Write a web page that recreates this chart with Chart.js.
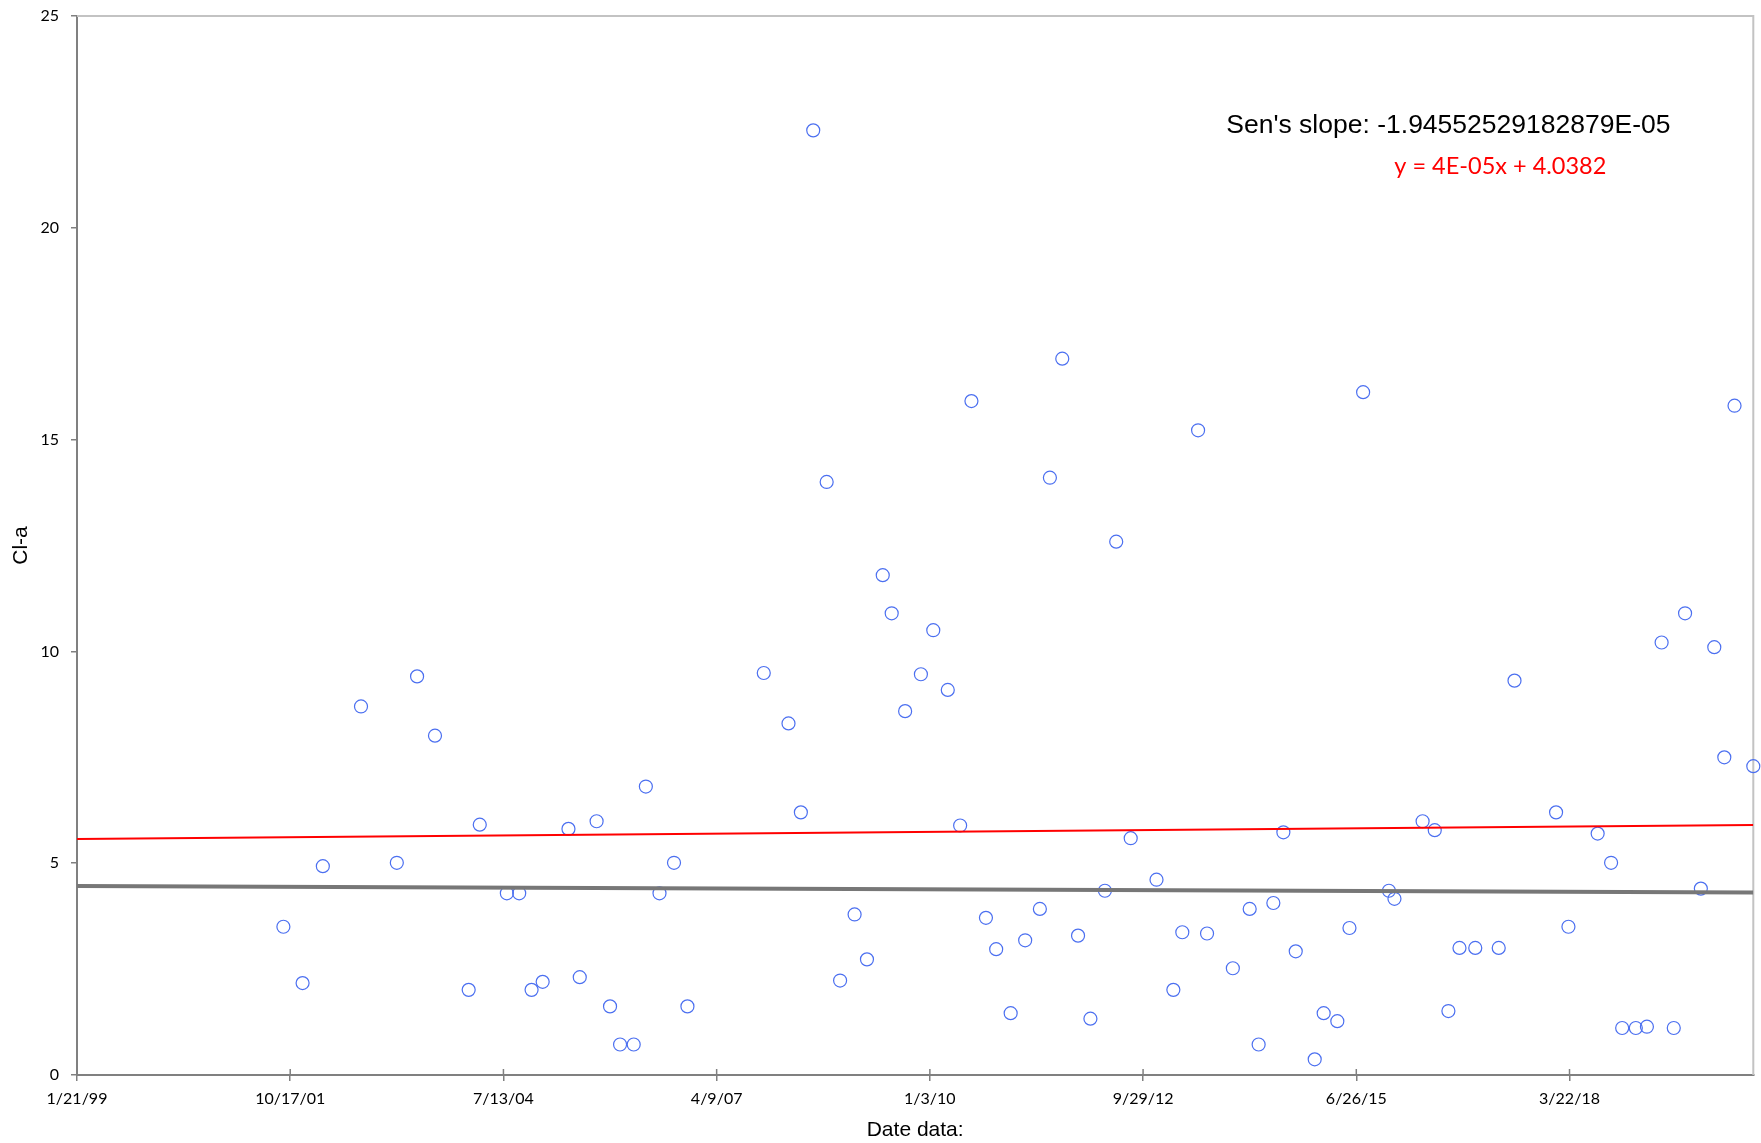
<!DOCTYPE html>
<html>
<head>
<meta charset="utf-8">
<title>Cl-a</title>
<script src="https://cdn.jsdelivr.net/npm/chart.js@4.4.1/dist/chart.umd.min.js"></script>
<style>
  html, body { margin: 0; padding: 0; background: #fff; }
  #wrap { width: 1761px; height: 1143px; position: relative; }
</style>
</head>
<body>
<div id="wrap"><canvas id="chart"></canvas></div>
<script>
// sample dates as Excel serial day numbers (same x the trend equation uses)
const sampleDates = [
  37149, 37239, 37334, 37513, 37681, 37776, 37860, 38018, 38070, 38197,
  38255, 38313, 38365, 38486, 38539, 38618, 38681, 38728, 38792, 38849,
  38913, 38981, 39044, 39402, 39518, 39576, 39634, 39697, 39760, 39828,
  39886, 39960, 40002, 40065, 40139, 40197, 40265, 40323, 40376, 40444,
  40492, 40560, 40628, 40697, 40744, 40802, 40876, 40934, 41002, 41055,
  41123, 41244, 41323, 41365, 41439, 41481, 41602, 41681, 41723, 41792,
  41839, 41897, 41986, 42028, 42092, 42149, 42213, 42334, 42360, 42492,
  42549, 42613, 42665, 42739, 42849, 42923, 43118, 43176, 43313, 43376,
  43428, 43492, 43544, 43613, 43670, 43723, 43797, 43860, 43907, 43955,
  44043
];
const chla = [
  3.50, 2.17, 4.93, 8.70, 5.01, 9.41, 8.01, 2.01, 5.91, 4.29,
  4.29, 2.01, 2.20, 5.81, 2.31, 5.99, 1.62, 0.72, 0.72, 6.81,
  4.29, 5.01, 1.62, 9.49, 8.30, 6.20, 22.30, 14.00, 2.23, 3.79,
  2.73, 11.80, 10.90, 8.59, 9.46, 10.50, 9.09, 5.89, 15.91, 3.71,
  2.97, 1.46, 3.18, 3.92, 14.10, 16.91, 3.29, 1.33, 4.35, 12.59,
  5.59, 4.61, 2.01, 3.37, 15.22, 3.34, 2.52, 3.92, 0.72, 4.06,
  5.73, 2.92, 0.37, 1.46, 1.27, 3.47, 16.12, 4.35, 4.16, 5.99,
  5.78, 1.51, 3.00, 3.00, 3.00, 9.31, 6.20, 3.50, 5.70, 5.01,
  1.11, 1.11, 1.14, 10.21, 1.11, 10.90, 4.40, 10.10, 7.50, 15.80,
  7.29
];
const tickSerials = [36181, 37181, 38181, 39181, 40181, 41181, 42181, 43181];
const tickLabels = ['1/21/99', '10/17/01', '7/13/04', '4/9/07', '1/3/10', '9/29/12', '6/26/15', '3/22/18'];
const xRange = [36181, 44043];
const senLine = [4.46, 4.31];     // Sen's slope line at both ends of the axis
const trendLine = [5.57, 5.90];   // linear trendline at both ends
const senText = "Sen's slope: -1.94552529182879E-05";
const trendText = 'y = 4E-05x + 4.0382';

const axisGrey = '#808080';

// frame on top/right, inner half of the x tick marks, and the two labels
const extras = {
  id: 'extras',
  beforeDatasetsDraw(chart) {
    const { ctx, chartArea: a } = chart;
    ctx.save();
    ctx.strokeStyle = '#c3c3c3';
    ctx.lineWidth = 2;
    ctx.beginPath();
    ctx.moveTo(a.left, a.top);
    ctx.lineTo(a.right, a.top);
    ctx.lineTo(a.right, a.bottom);
    ctx.stroke();
    ctx.restore();
  },
  afterDraw(chart) {
    const { ctx, chartArea: a, scales: { x } } = chart;
    ctx.save();
    ctx.strokeStyle = axisGrey;
    ctx.lineWidth = 1.5;
    x.ticks.forEach(t => {
      const px = x.getPixelForValue(t.value);
      ctx.beginPath();
      ctx.moveTo(px, a.bottom);
      ctx.lineTo(px, a.bottom - 6);
      ctx.stroke();
    });
    ctx.textAlign = 'left';
    ctx.textBaseline = 'alphabetic';
    ctx.fillStyle = '#000';
    ctx.font = '26.5px "Liberation Sans", Arial, sans-serif';
    ctx.fillText(senText, a.right - 527, a.top + 117);
    ctx.fillStyle = '#ff0000';
    ctx.font = '23.5px Lato, sans-serif';
    ctx.fillText(trendText, a.right - 359, a.top + 157.5);
    ctx.restore();
  }
};

const points = sampleDates.map((d, i) => ({ x: d, y: chla[i] }));

new Chart(document.getElementById('chart'), {
  type: 'scatter',
  data: {
    datasets: [
      {
        label: "Sen's slope",
        data: [{ x: xRange[0], y: senLine[0] }, { x: xRange[1], y: senLine[1] }],
        showLine: true,
        borderColor: '#777777',
        borderWidth: 4,
        pointRadius: 0
      },
      {
        label: 'Linear trend',
        data: [{ x: xRange[0], y: trendLine[0] }, { x: xRange[1], y: trendLine[1] }],
        showLine: true,
        borderColor: '#ff0000',
        borderWidth: 2,
        pointRadius: 0
      },
      {
        label: 'Cl-a',
        data: points,
        pointStyle: 'circle',
        pointRadius: 6.5,
        pointBorderWidth: 1.2,
        borderColor: '#4b6ff0',
        backgroundColor: 'rgba(255,255,255,0)',
        clip: false
      }
    ]
  },
  options: {
    responsive: true,
    maintainAspectRatio: false,
    animation: false,
    layout: { padding: { top: 16, right: 6, left: 0, bottom: 0 } },
    plugins: {
      legend: { display: false },
      tooltip: { enabled: false }
    },
    scales: {
      x: {
        type: 'linear',
        min: xRange[0],
        max: xRange[1],
        afterBuildTicks: scale => {
          scale.ticks = tickSerials.map(v => ({ value: v }));
        },
        afterFit: scale => {
          scale.height = 68;
          scale.paddingLeft = 0;
          scale.paddingRight = 0;
        },
        border: { display: true, color: axisGrey, width: 2 },
        grid: { drawOnChartArea: false, drawTicks: true, tickLength: 6, color: axisGrey, lineWidth: 1.5 },
        ticks: {
          autoSkip: false,
          maxRotation: 0,
          padding: 8,
          color: '#000',
          font: { family: 'Lato', size: 16 },
          callback: (value, index) => tickLabels[index]
        },
        title: {
          display: true,
          text: 'Date data:',
          color: '#000',
          font: { family: 'Liberation Sans', size: 21 },
          padding: { top: 0, bottom: 0 }
        }
      },
      y: {
        min: 0,
        max: 25,
        afterFit: scale => {
          scale.width = 77;
          scale.paddingTop = 0;
          scale.paddingBottom = 0;
        },
        border: { display: true, color: axisGrey, width: 2 },
        grid: { drawOnChartArea: false, drawTicks: true, tickLength: 6, color: axisGrey, lineWidth: 1.5 },
        ticks: {
          stepSize: 5,
          padding: 12,
          color: '#000',
          font: { family: 'Lato', size: 16 }
        },
        title: {
          display: true,
          text: 'Cl-a',
          color: '#000',
          font: { family: 'Liberation Sans', size: 21 },
          padding: { top: 9, bottom: 0 }
        }
      }
    }
  },
  plugins: [extras]
});
</script>
</body>
</html>
